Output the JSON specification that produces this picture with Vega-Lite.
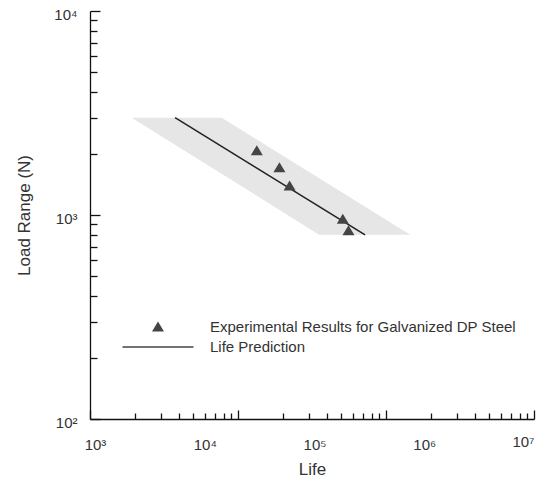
{
  "$schema": "https://vega.github.io/schema/vega-lite/v6.json",
  "width": 444,
  "height": 408,
  "padding": {"left": 90, "top": 11, "right": 15, "bottom": 60},
  "autosize": {"type": "none"},
  "background": "white",
  "config": {
    "view": {"stroke": null},
    "font": "Liberation Sans",
    "axis": {
      "domainColor": "#111",
      "domainWidth": 1.3,
      "tickColor": "#111",
      "tickWidth": 1.3,
      "grid": false,
      "labelFont": "Liberation Sans",
      "labelFontSize": 15,
      "labelColor": "#333",
      "titleFont": "Liberation Sans",
      "titleFontSize": 17,
      "titleFontWeight": "normal",
      "titleColor": "#333"
    }
  },
  "datasets": {
    "band": [
      {"load": 3000, "lo": 2160, "hi": 14300},
      {"load": 800, "lo": 110000, "hi": 745000}
    ],
    "pred": [
      {"life": 5360, "load": 3000},
      {"life": 289000, "load": 800}
    ],
    "exp": [
      {"life": 29800, "load": 2066, "series": "Experimental Results for Galvanized DP Steel"},
      {"life": 47900, "load": 1706, "series": "Experimental Results for Galvanized DP Steel"},
      {"life": 59300, "load": 1388, "series": "Experimental Results for Galvanized DP Steel"},
      {"life": 181000, "load": 952, "series": "Experimental Results for Galvanized DP Steel"},
      {"life": 204000, "load": 837, "series": "Experimental Results for Galvanized DP Steel"}
    ]
  },
  "layer": [
    {
      "data": {"name": "band"},
      "mark": {"type": "area", "orient": "horizontal", "color": "#e6e6e6", "opacity": 1},
      "encoding": {
        "y": {
          "field": "load", "type": "quantitative",
          "scale": {"type": "log", "domain": [100, 10000], "nice": false},
          "axis": {
            "title": "Load Range (N)",
            "titlePadding": 20,
            "values": [100,200,300,400,500,600,700,800,900,1000,2000,3000,4000,5000,6000,7000,8000,9000,10000],
            "labelExpr": "datum.value == 100 ? '10²' : datum.value == 1000 ? '10³' : datum.value == 10000 ? '10⁴' : ''",
            "tickSize": {"condition": {"test": "indexof([100,1000,10000], datum.value) >= 0", "value": -10}, "value": -7},
            "labelPadding": 23,
            "labelOffset": 3
          }
        },
        "x": {
          "field": "lo", "type": "quantitative",
          "scale": {"type": "log", "domain": [900, 10000000], "nice": false},
          "axis": {
            "title": "Life",
            "titlePadding": 9,
            "values": [900,2291.7,3960,5835.3,7886.4,10083,12414.5,14858.8,17424.6,20083.5,51138.7,88367.4,130215,175987,225000,277032,331575,388831,448163,1141158,1971917,2905747,3927144,5020935,6182005,7399085,8676697,10000000,1000,10000,100000,1000000],
            "labelExpr": "datum.value == 1000 ? '10³' : datum.value == 10000 ? '10⁴' : datum.value == 100000 ? '10⁵' : datum.value == 1000000 ? '10⁶' : datum.value == 10000000 ? '10⁷' : ''",
            "tickSize": {"condition": {"test": "indexof([900,20083.5,448163,10000000], datum.value) >= 0", "value": -9}, "value": -6},
            "tickOpacity": {"condition": {"test": "indexof([1000,10000,100000,1000000], datum.value) >= 0", "value": 0}, "value": 1},
            "labelPadding": 24
          }
        },
        "x2": {"field": "hi"}
      }
    },
    {
      "data": {"name": "pred"},
      "mark": {"type": "line", "color": "#222", "strokeWidth": 1.5},
      "encoding": {
        "x": {"field": "life", "type": "quantitative"},
        "y": {"field": "load", "type": "quantitative"}
      }
    },
    {
      "data": {"name": "exp"},
      "mark": {"type": "point", "filled": true, "opacity": 1, "color": "#444", "size": 400},
      "encoding": {
        "x": {"field": "life", "type": "quantitative"},
        "y": {"field": "load", "type": "quantitative"},
        "shape": {
          "field": "series", "type": "nominal",
          "scale": {
            "domain": ["Experimental Results for Galvanized DP Steel", "Life Prediction"],
            "range": ["M 0 -0.55 L 0.6 0.45 L -0.6 0.45 Z", "M -3.55 -0.07 L 3.55 -0.07 L 3.55 0.07 L -3.55 0.07 Z"]
          },
          "legend": {
            "title": null,
            "orient": "none",
            "legendX": 58,
            "legendY": 306,
            "padding": 0,
            "rowPadding": 2,
            "symbolSize": 400,
            "labelOffset": 42,
            "labelFont": "Liberation Sans",
            "labelFontSize": 15,
            "labelColor": "#333",
            "labelLimit": 500,
            "symbolStrokeWidth": 0,
            "symbolFillColor": "#333",
            "symbolOpacity": 1,
            "encode": {
              "symbols": {"update": {"fill": {"value": "#333"}, "opacity": {"value": 1}, "fillOpacity": {"value": 1}}}
            }
          }
        }
      }
    }
  ]
}
